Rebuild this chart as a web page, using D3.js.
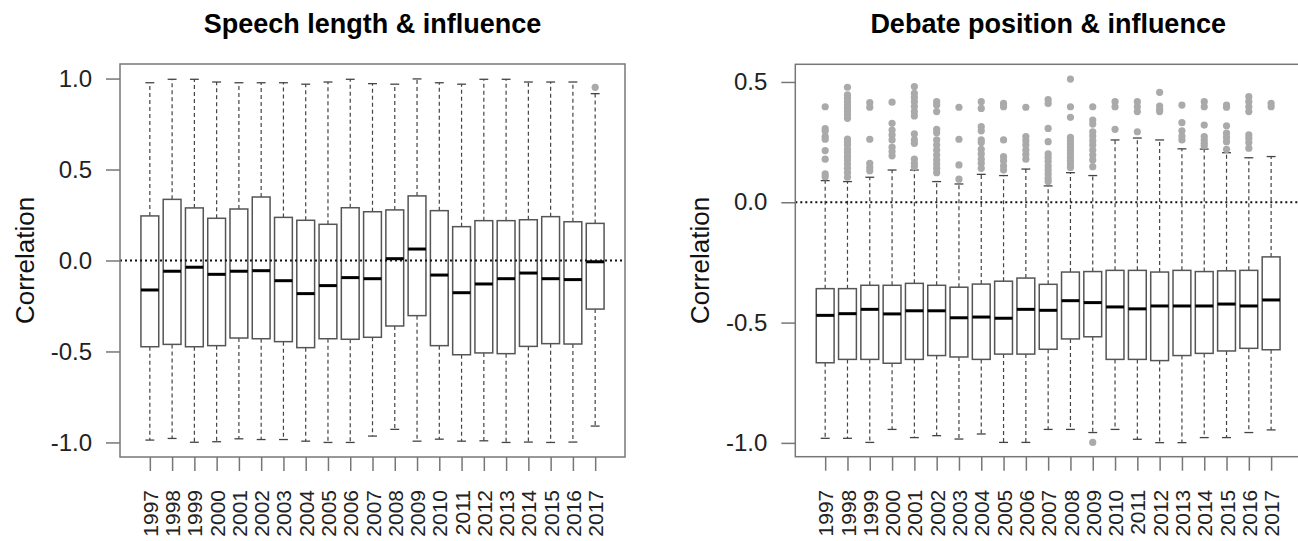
<!DOCTYPE html>
<html>
<head>
<meta charset="utf-8">
<script src="https://cdn.jsdelivr.net/npm/d3@7"></script>
<style>
  html, body { margin: 0; padding: 0; background: #fff; }
  svg { display: block; font-family: "Liberation Sans", Arial, Helvetica, sans-serif; }
</style>
</head>
<body>
<svg id="chart" width="1298" height="541"></svg>
<script>
// ---------- data ----------
const years = ["1997","1998","1999","2000","2001","2002","2003","2004","2005","2006","2007",
               "2008","2009","2010","2011","2012","2013","2014","2015","2016","2017"];

// Panel 1: Speech length & influence
const speechWhiskerHigh = [0.977,0.996,0.996,0.981,0.977,0.977,0.977,0.969,0.981,0.996,0.972,
                           0.969,0.998,0.977,0.969,0.996,0.996,0.981,0.981,0.981,0.917];
const speechQ3 = [0.245,0.336,0.289,0.232,0.283,0.349,0.237,0.221,0.199,0.290,0.268,
                  0.278,0.355,0.274,0.186,0.219,0.219,0.224,0.241,0.213,0.204];
const speechMedian = [-0.162,-0.059,-0.037,-0.076,-0.059,-0.056,-0.111,-0.182,-0.138,-0.094,-0.100,
                      0.010,0.063,-0.080,-0.177,-0.129,-0.100,-0.069,-0.100,-0.105,-0.007];
const speechQ1 = [-0.474,-0.461,-0.474,-0.468,-0.426,-0.430,-0.446,-0.479,-0.430,-0.433,-0.422,
                  -0.360,-0.303,-0.468,-0.518,-0.508,-0.512,-0.472,-0.457,-0.459,-0.267];
const speechWhiskerLow = [-0.987,-0.978,-0.999,-0.996,-0.980,-0.984,-0.984,-0.993,-1.000,-1.000,-0.965,
                          -0.928,-0.993,-0.982,-0.993,-0.991,-1.000,-0.998,-1.000,-0.998,-0.910];
const speechOutliers = [[],[],[],[],[],[],[],[],[],[],[],[],[],[],[],[],[],[],[],[],[0.952]];

// Panel 2: Debate position & influence
const debateWhiskerHigh = [0.090,0.086,0.104,0.134,0.134,0.086,0.076,0.116,0.111,0.138,0.068,
                           0.123,0.111,0.259,0.267,0.259,0.222,0.221,0.206,0.185,0.190];
const debateQ3 = [-0.359,-0.359,-0.345,-0.345,-0.337,-0.345,-0.353,-0.340,-0.328,-0.315,-0.341,
                  -0.290,-0.288,-0.283,-0.283,-0.290,-0.283,-0.288,-0.285,-0.283,-0.227];
const debateMedian = [-0.470,-0.463,-0.445,-0.464,-0.451,-0.451,-0.480,-0.477,-0.482,-0.445,-0.449,
                      -0.409,-0.417,-0.435,-0.443,-0.431,-0.431,-0.431,-0.423,-0.431,-0.406];
const debateQ1 = [-0.667,-0.653,-0.653,-0.669,-0.653,-0.637,-0.643,-0.653,-0.631,-0.631,-0.611,
                  -0.568,-0.559,-0.653,-0.653,-0.658,-0.637,-0.628,-0.618,-0.607,-0.613];
const debateWhiskerLow = [-0.981,-0.981,-0.998,-0.944,-0.978,-0.970,-0.984,-0.963,-0.998,-0.998,-0.944,
                          -0.944,-0.957,-0.944,-0.985,-0.999,-0.999,-0.978,-0.978,-0.957,-0.946];
const debateOutliers = [
  [0.397,0.306,0.296,0.273,0.262,0.215,0.179,0.118,0.106],
  [0.478,0.446,0.432,0.418,0.404,0.390,0.377,0.363,0.349,0.263,0.252,0.238,0.220,0.206,0.190,0.176,0.159,0.141,0.123,0.104],
  [0.414,0.395,0.262,0.162,0.145,0.131],
  [0.416,0.328,0.300,0.280,0.259,0.229,0.211,0.193],
  [0.481,0.453,0.436,0.418,0.398,0.377,0.359,0.284,0.259,0.245,0.179,0.162,0.148],
  [0.418,0.404,0.377,0.303,0.289,0.259,0.238,0.217,0.196,0.176,0.159,0.141,0.123],
  [0.395,0.262,0.155,0.096],
  [0.418,0.390,0.314,0.297,0.259,0.248,0.220,0.201,0.179,0.162,0.141],
  [0.411,0.397,0.259,0.190,0.173,0.151,0.134],
  [0.395,0.273,0.256,0.238,0.217,0.199,0.179],
  [0.427,0.411,0.307,0.252,0.201,0.186,0.170,0.151,0.134,0.118,0.100,0.086],
  [0.512,0.397,0.353,0.270,0.256,0.242,0.228,0.215,0.201,0.187,0.173,0.159,0.145],
  [0.397,0.342,0.325,0.293,0.275,0.256,0.238,0.217,0.196,0.176,0.148,-0.998],
  [0.418,0.397,0.303],
  [0.418,0.397,0.377,0.293],
  [0.457,0.400,0.386,0.377],
  [0.404,0.331,0.297,0.275,0.259],
  [0.418,0.397,0.321,0.273,0.259,0.245,0.234],
  [0.404,0.395,0.318,0.287,0.270,0.252,0.220],
  [0.439,0.418,0.397,0.377,0.280,0.266,0.248,0.225],
  [0.411,0.397]
];

const speechTicks = [-1.0,-0.5,0.0,0.5,1.0];
const debateTicks = [-1.0,-0.5,0.0,0.5];

// ---------- drawing ----------
const svg = d3.select("#chart");
const fmt = v => v.toFixed(1);

function panel(opts) {
  const {left, right, top, bottom, yDomain, ticks, title,
         wHi, q3, med, q1, wLo, outliers} = opts;
  const g = svg.append("g");

  const x = d3.scalePoint().domain(years).range([left, right]).padding(1.34);
  const y = d3.scaleLinear().domain(yDomain).range([bottom, top]);
  const bw = x.step() * 0.8;
  const sw = bw * 0.5;

  const rows = years.map((yr, i) => ({yr, hi: wHi[i], q3: q3[i], med: med[i], q1: q1[i], lo: wLo[i], out: outliers[i]}));
  const box = g.selectAll("g.box").data(rows).join("g").attr("class", "box");

  // whiskers (dashed)
  box.append("line")
    .attr("x1", d => x(d.yr)).attr("x2", d => x(d.yr))
    .attr("y1", d => y(d.q3)).attr("y2", d => y(d.hi))
    .attr("stroke", "#444").attr("stroke-width", 1.2).attr("stroke-dasharray", "4,3");
  box.append("line")
    .attr("x1", d => x(d.yr)).attr("x2", d => x(d.yr))
    .attr("y1", d => y(d.q1)).attr("y2", d => y(d.lo))
    .attr("stroke", "#444").attr("stroke-width", 1.2).attr("stroke-dasharray", "4,3");
  // staples
  box.append("line")
    .attr("x1", d => x(d.yr) - sw/2).attr("x2", d => x(d.yr) + sw/2)
    .attr("y1", d => y(d.hi)).attr("y2", d => y(d.hi))
    .attr("stroke", "#444").attr("stroke-width", 1.3);
  box.append("line")
    .attr("x1", d => x(d.yr) - sw/2).attr("x2", d => x(d.yr) + sw/2)
    .attr("y1", d => y(d.lo)).attr("y2", d => y(d.lo))
    .attr("stroke", "#444").attr("stroke-width", 1.3);
  // box
  box.append("rect")
    .attr("x", d => x(d.yr) - bw/2).attr("width", bw)
    .attr("y", d => y(d.q3)).attr("height", d => y(d.q1) - y(d.q3))
    .attr("fill", "#fff").attr("stroke", "#555").attr("stroke-width", 1.5);
  // median
  box.append("line")
    .attr("x1", d => x(d.yr) - bw/2).attr("x2", d => x(d.yr) + bw/2)
    .attr("y1", d => y(d.med)).attr("y2", d => y(d.med))
    .attr("stroke", "#000").attr("stroke-width", 3);
  // outliers
  box.selectAll("circle").data(d => d.out.map(v => ({yr: d.yr, v})))
    .join("circle")
    .attr("cx", d => x(d.yr)).attr("cy", d => y(d.v)).attr("r", 3.6)
    .attr("fill", "#aaaaaa");

  // dotted zero reference line (drawn over the boxes)
  g.append("line")
    .attr("x1", left).attr("x2", right)
    .attr("y1", y(0)).attr("y2", y(0))
    .attr("stroke", "#111").attr("stroke-width", 2)
    .attr("stroke-dasharray", "2,3");

  // frame
  g.append("rect")
    .attr("x", left).attr("y", top)
    .attr("width", right - left).attr("height", bottom - top)
    .attr("fill", "none").attr("stroke", "#777").attr("stroke-width", 1.5);

  // y axis
  const ya = g.append("g").attr("transform", `translate(${left},0)`)
    .call(d3.axisLeft(y).tickValues(ticks).tickFormat(fmt).tickSize(14).tickPadding(14));
  ya.select(".domain").remove();
  ya.selectAll(".tick line").attr("stroke", "#777").attr("stroke-width", 1.5);
  ya.selectAll(".tick text").attr("font-size", 24).attr("fill", "#222")
    .attr("font-family", "Liberation Sans, Arial, sans-serif");

  // x axis
  const xa = g.append("g").attr("transform", `translate(0,${bottom})`)
    .call(d3.axisBottom(x).tickSize(14).tickPadding(0));
  xa.select(".domain").remove();
  xa.selectAll(".tick line").attr("stroke", "#777").attr("stroke-width", 1.5);
  xa.selectAll(".tick text")
    .attr("font-size", 21).attr("fill", "#222")
    .attr("font-family", "Liberation Sans, Arial, sans-serif")
    .attr("text-anchor", "end")
    .attr("transform", "translate(0,33) rotate(-90)")
    .attr("x", 0).attr("y", 0).attr("dy", "0.36em");

  // title
  g.append("text")
    .attr("x", (left + right) / 2).attr("y", 33)
    .attr("text-anchor", "middle")
    .attr("font-size", 27).attr("font-weight", "bold").attr("fill", "#000")
    .text(title);

  // y label
  g.append("text")
    .attr("transform", `translate(${left - 86},${(top + bottom) / 2}) rotate(-90)`)
    .attr("text-anchor", "middle")
    .attr("font-size", 26).attr("fill", "#111")
    .text("Correlation");
}

panel({
  left: 120, right: 625, top: 64, bottom: 457,
  yDomain: [-1.08, 1.08], ticks: speechTicks,
  title: "Speech length & influence",
  wHi: speechWhiskerHigh, q3: speechQ3, med: speechMedian, q1: speechQ1, wLo: speechWhiskerLow,
  outliers: speechOutliers
});

panel({
  left: 795.3, right: 1301, top: 64.3, bottom: 456.7,
  yDomain: [-1.0574, 0.5734], ticks: debateTicks,
  title: "Debate position & influence",
  wHi: debateWhiskerHigh, q3: debateQ3, med: debateMedian, q1: debateQ1, wLo: debateWhiskerLow,
  outliers: debateOutliers
});
</script>
</body>
</html>
